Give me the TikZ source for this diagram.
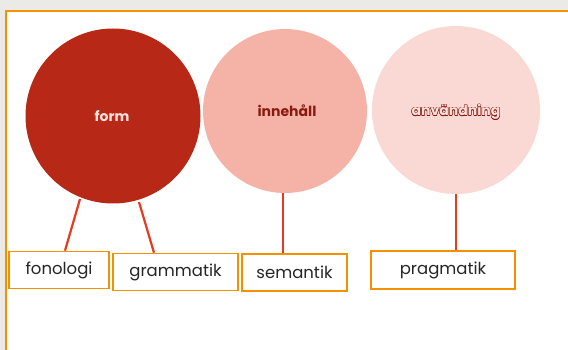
\documentclass[tikz,border=0pt]{standalone}
\usepackage{fontspec}
\setmainfont{Poppins}
\begin{document}
\begin{tikzpicture}[x=1pt,y=-1pt,
  bordercol/.style={draw=orangeB, line width=2pt},
  circ/.style={circle, minimum size=#1, inner sep=0pt, draw=none},
  lbox/.style={draw=orangeB, line width=1.6pt, fill=white, inner sep=0pt},
  conn/.style={draw=redL, line width=2.2pt},
  boxtxt/.style={font=\fontsize{16.5}{17}\selectfont, text=black!85},
  ctxt/.style={font=\bfseries\fontsize{14}{15}\selectfont}
]
\definecolor{orangeB}{HTML}{F39200}
\definecolor{redL}{HTML}{E43B22}
\definecolor{bgG}{HTML}{EBEAE6}
\definecolor{cForm}{HTML}{B72916}
\definecolor{cInne}{HTML}{F5B3A8}
\definecolor{cAnv}{HTML}{FAD9D4}
\definecolor{darkR}{HTML}{8A1A10}
\definecolor{lightP}{HTML}{FBE0DC}
\useasboundingbox (0,0) rectangle (568,350);
\fill[bgG] (0,0) rectangle (568,350);
\fill[white, bordercol] (5.5,11.3) rectangle (580,360);
% circles
\node[circ=175pt, fill=cForm] (form) at (113,116) {};
\node[circ=164pt, fill=cInne] (inne) at (285,111) {};
\node[circ=168pt, fill=cAnv] (anv) at (456,110) {};
\node[ctxt, text=lightP] (tform) at (112,116) {form};
\node[ctxt, text=darkR] (tinne) at (287,111) {innehåll};
\foreach \dx/\dy in {0.45/0,-0.45/0,0/0.45,0/-0.45,0.32/0.32,-0.32/0.32,0.32/-0.32,-0.32/-0.32}
  \node[ctxt, text=darkR] at (456+\dx,112+\dy) {användning};
\node[ctxt, text=lightP] (tanv) at (456,112) {användning};
% boxes
\node[lbox, minimum width=100pt, minimum height=37pt] (fon) at (59,270) {};
\node[lbox, minimum width=125pt, minimum height=37pt] (gra) at (175.5,272) {};
\node[lbox, minimum width=105pt, minimum height=37pt] (sem) at (294.5,272.5) {};
\node[lbox, minimum width=144pt, minimum height=38pt] (pra) at (443,270) {};
\node[boxtxt] at (fon) {fonologi};
\node[boxtxt] at (gra) {grammatik};
\node[boxtxt] at (sem) {semantik};
\node[boxtxt] at (pra) {pragmatik};
% connectors
\coordinate (f1) at (80,199);
\coordinate (f2) at (139,202);
\draw[conn] (f1) -- (fon.north -| 65,0);
\draw[conn] (f2) -- (gra.north -| 154,0);
\draw[conn] (inne.south -| 283,0) -- (sem.north -| 283,0);
\draw[conn] (anv.south) -- (pra.north -| anv.south);
\end{tikzpicture}
\end{document}
